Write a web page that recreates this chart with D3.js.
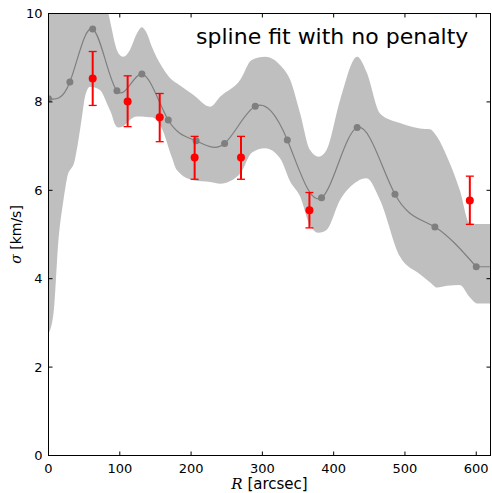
<!DOCTYPE html>
<html>
<head>
<meta charset="utf-8">
<script src="https://cdn.jsdelivr.net/npm/d3@7"></script>
<style>
  body { margin: 0; background: #fff; }
  svg { display: block; }
  text { font-family: "DejaVu Sans", sans-serif; fill: #000; }
</style>
</head>
<body>
<div id="plot"></div>
<script>
// spline knots (grey points)
const knotR = [0, 30, 62, 96, 131, 168, 207, 247, 290, 335, 383, 433, 486, 542, 600];
const knotSigma = [8.07, 8.45, 9.65, 8.25, 8.63, 7.59, 7.12, 7.06, 7.90, 7.14, 5.83, 7.42, 5.91, 5.17, 4.27];

// measured dispersions (red points)
const obsR = [62, 111, 156, 205, 270, 366, 591];
const obsSigma = [8.53, 8.01, 7.65, 6.74, 6.74, 5.55, 5.77];
const obsLo = [7.92, 7.44, 7.10, 6.25, 6.25, 5.15, 5.23];
const obsHi = [9.14, 8.59, 8.19, 7.22, 7.22, 5.95, 6.32];

// uncertainty band
const bandR = [0, 7, 14, 21, 26, 37, 42, 47, 51, 58, 72, 84, 89, 93, 98, 105, 114, 124, 131, 138, 145, 159, 173,
  180, 203, 227, 241, 269, 285, 304, 325, 339, 353, 367, 379, 390, 409, 433, 446, 465, 493, 521, 535, 545, 559,
  577, 591, 601, 620];
const bandHi = [10.3, 10.6, 10.8, 10.9, 11, 11, 11, 11, 11, 11, 10.6, 10.0, 9.63, 9.33, 9.10, 9.02, 9.17, 9.55, 9.69, 9.55, 9.25, 8.80, 8.50,
  8.42, 8.16, 7.89, 8.12, 8.50, 8.95, 9.02, 8.83, 8.50, 7.74, 6.91, 6.76, 6.91, 8.04, 9.02, 8.68, 7.74, 7.52, 7.40, 7.38, 7.21, 6.76,
  6.00, 5.25, 5.24, 5.24];
const bandLo = [2.76, 3.22, 4.88, 5.78, 6.27, 6.69, 7.14, 7.67, 8.10, 8.34, 8.27, 7.89, 7.70, 7.50, 7.42, 7.45, 7.59, 7.67, 7.67, 7.66, 7.65, 7.40, 6.75,
  6.46, 6.23, 6.19, 6.15, 6.38, 6.85, 6.95, 6.72, 6.20, 5.86, 5.20, 5.04, 5.10, 5.78, 6.20, 6.27, 5.78, 4.50, 4.10, 3.92, 3.80, 3.84,
  3.86, 3.58, 3.44, 3.44];

const xTicks = [0, 100, 200, 300, 400, 500, 600];
const yTicks = [0, 2, 4, 6, 8, 10];

const W = 492, H = 493;
const m = {left: 48.5, top: 13.5, right: 1.5, bottom: 37.5};
const w = W - m.left - m.right;
const h = H - m.top - m.bottom;

const svg = d3.select('#plot').append('svg').attr('width', W).attr('height', H);
const g = svg.append('g').attr('transform', `translate(${m.left},${m.top})`);

const x = d3.scaleLinear().domain([0, 620]).range([0, w]);
const y = d3.scaleLinear().domain([0, 10]).range([h, 0]);

g.append('clipPath').attr('id', 'clip')
  .append('rect').attr('width', w).attr('height', h);

const plot = g.append('g').attr('clip-path', 'url(#clip)');

// band
const bandData = bandR.map((r, i) => ({r, lo: bandLo[i], hi: bandHi[i]}));
plot.append('path')
  .datum(bandData)
  .attr('fill', '#bfbfbf')
  .attr('d', d3.area().curve(d3.curveMonotoneX)
    .x(d => x(d.r)).y0(d => y(d.lo)).y1(d => y(d.hi)));

// spline
const knots = knotR.map((r, i) => ({r, s: knotSigma[i]}));
plot.append('path')
  .datum(knots)
  .attr('fill', 'none')
  .attr('stroke', '#7f7f7f')
  .attr('stroke-width', 1.2)
  .attr('d', d3.line().curve(d3.curveNatural).x(d => x(d.r)).y(d => y(d.s)));
const last = knots[knots.length - 1];
plot.append('line')
  .attr('x1', x(last.r)).attr('x2', x(620))
  .attr('y1', y(last.s)).attr('y2', y(last.s))
  .attr('stroke', '#7f7f7f').attr('stroke-width', 1.2);

plot.selectAll('.knot').data(knots).enter()
  .append('circle').attr('class', 'knot')
  .attr('cx', d => x(d.r)).attr('cy', d => y(d.s)).attr('r', 3.5)
  .attr('fill', '#7f7f7f');

// observations with error bars
const obs = obsR.map((r, i) => ({r, s: obsSigma[i], lo: obsLo[i], hi: obsHi[i]}));
const eb = g.selectAll('.obs').data(obs).enter().append('g').attr('class', 'obs');
eb.append('line')
  .attr('x1', d => x(d.r)).attr('x2', d => x(d.r))
  .attr('y1', d => y(d.lo)).attr('y2', d => y(d.hi))
  .attr('stroke', 'red').attr('stroke-width', 2);
eb.selectAll('.cap').data(d => [[d.r, d.lo], [d.r, d.hi]]).enter()
  .append('line').attr('class', 'cap')
  .attr('x1', d => x(d[0]) - 4).attr('x2', d => x(d[0]) + 4)
  .attr('y1', d => y(d[1])).attr('y2', d => y(d[1]))
  .attr('stroke', 'red').attr('stroke-width', 1.3);
eb.append('circle')
  .attr('cx', d => x(d.r)).attr('cy', d => y(d.s)).attr('r', 4)
  .attr('fill', 'red');

// frame and ticks (inside, all four sides)
g.append('rect').attr('width', w).attr('height', h)
  .attr('fill', 'none').attr('stroke', '#000').attr('stroke-width', 1);

const tickLen = 4;
g.selectAll('.xt').data(xTicks).enter().append('path')
  .attr('stroke', '#000')
  .attr('d', d => `M${x(d)},${h}v${-tickLen}M${x(d)},0v${tickLen}`);
g.selectAll('.yt').data(yTicks).enter().append('path')
  .attr('stroke', '#000')
  .attr('d', d => `M0,${y(d)}h${tickLen}M${w},${y(d)}h${-tickLen}`);

g.selectAll('.xl').data(xTicks).enter().append('text')
  .attr('x', d => x(d)).attr('y', h + 17)
  .attr('text-anchor', 'middle').attr('font-size', 13)
  .text(d => d);
g.selectAll('.yl').data(yTicks).enter().append('text')
  .attr('x', -6).attr('y', d => y(d) + 4.5)
  .attr('text-anchor', 'end').attr('font-size', 13)
  .text(d => d);

// axis labels
const xl = svg.append('text')
  .attr('x', m.left + w / 2).attr('y', 489)
  .attr('text-anchor', 'middle').attr('font-size', 15);
xl.append('tspan').attr('font-style', 'italic').attr('font-family', '"DejaVu Serif", serif').text('R');
xl.append('tspan').text(' [arcsec]');

const yl = svg.append('text')
  .attr('transform', `translate(21,${m.top + h / 2}) rotate(-90)`)
  .attr('text-anchor', 'middle').attr('font-size', 14);
yl.append('tspan').attr('font-style', 'italic').attr('font-family', '"DejaVu Serif", serif').text('σ');
yl.append('tspan').text(' [km/s]');

// title
g.append('text')
  .attr('x', x(589)).attr('y', 30)
  .attr('text-anchor', 'end').attr('font-size', 22)
  .attr('font-family', 'Lato, sans-serif')
  .text('spline fit with no penalty');
</script>
</body>
</html>
